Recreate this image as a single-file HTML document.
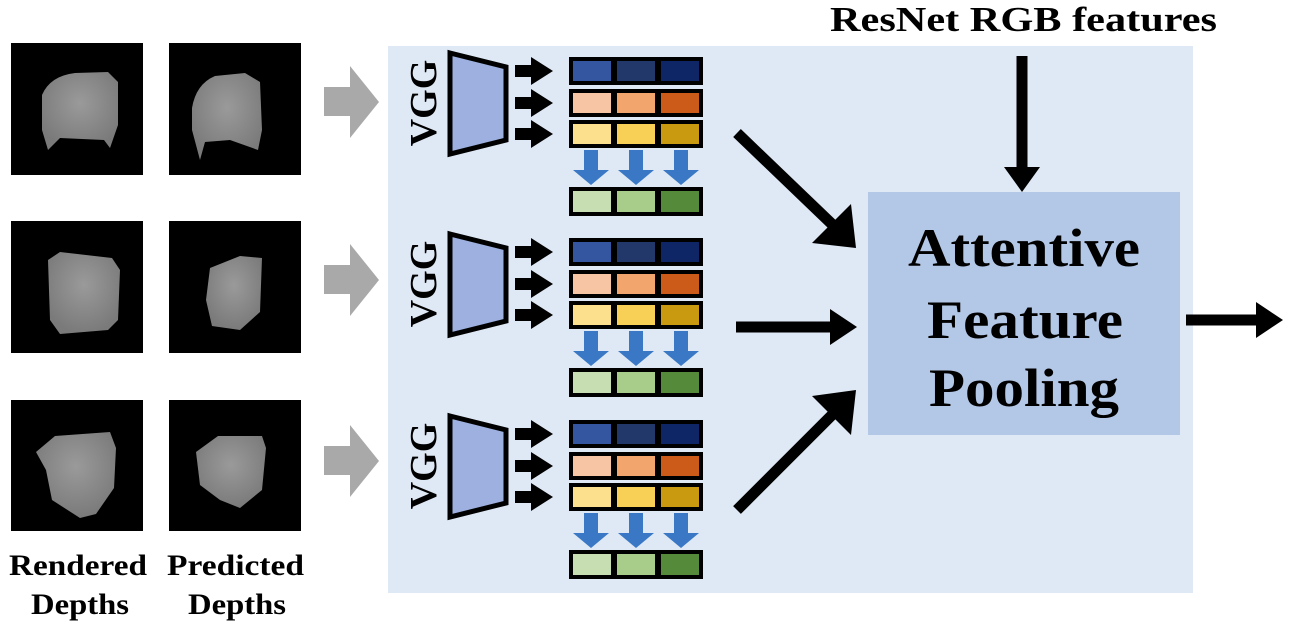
<!DOCTYPE html>
<html><head><meta charset="utf-8"><style>
html,body{margin:0;padding:0;background:#fff;}
svg{display:block;}
text{font-family:"Liberation Serif",serif;font-weight:bold;fill:#000;}
</style></head><body>
<svg width="1289" height="628" viewBox="0 0 1289 628" xmlns="http://www.w3.org/2000/svg">
<defs>
<radialGradient id="ch" cx="50%" cy="40%" r="60%">
<stop offset="0" stop-color="#9a9a9a"/><stop offset="1" stop-color="#7a7a7a"/>
</radialGradient>
</defs>
<rect x="388" y="46" width="805" height="547" fill="#dfe9f5"/>
<text x="830" y="31" font-size="35" textLength="387" lengthAdjust="spacingAndGlyphs">ResNet RGB features</text>

<g>
<rect x="11" y="43" width="132" height="132" fill="#000"/>
<path d="M42 95 Q50 76 75 73 L108 72 L118 82 L118 125 L110 148 L104 140 L60 138 L48 150 L42 130 Z" fill="url(#ch)"/>
<rect x="169" y="43" width="132" height="132" fill="#000"/>
<path d="M192 108 Q196 84 215 76 L245 73 L260 82 L262 130 L258 150 L230 140 L205 142 L200 160 L192 130 Z" fill="url(#ch)"/>
<rect x="11" y="221" width="132" height="132" fill="#000"/>
<path d="M48 260 L60 252 L112 258 L120 270 L118 320 L108 330 L60 334 L50 320 Z" fill="url(#ch)"/>
<rect x="169" y="221" width="132" height="132" fill="#000"/>
<path d="M210 268 L240 256 L262 258 L260 312 L240 330 L212 326 L206 300 Z" fill="url(#ch)"/>
<rect x="11" y="400" width="132" height="131" fill="#000"/>
<path d="M36 452 L55 436 L110 432 L116 448 L114 488 L96 514 L80 518 L52 500 L46 470 Z" fill="url(#ch)"/>
<rect x="169" y="400" width="132" height="131" fill="#000"/>
<path d="M196 452 L218 436 L262 436 L266 448 L262 490 L240 508 L220 500 L200 485 Z" fill="url(#ch)"/>
</g>
<text x="9" y="575" font-size="30" textLength="138" lengthAdjust="spacingAndGlyphs">Rendered</text>
<text x="31" y="614" font-size="30" textLength="98" lengthAdjust="spacingAndGlyphs">Depths</text>
<text x="167" y="575" font-size="30" textLength="137" lengthAdjust="spacingAndGlyphs">Predicted</text>
<text x="188" y="614" font-size="30" textLength="98" lengthAdjust="spacingAndGlyphs">Depths</text>

<g fill="#a9a9a9">
<path d="M324 87 L350 87 L350 66 L379 102 L350 138 L350 116 L324 116 Z"/>
<path d="M324 265 L350 265 L350 244 L379 280 L350 316 L350 294 L324 294 Z"/>
<path d="M324 446 L350 446 L350 425 L379 461 L350 497 L350 475 L324 475 Z"/>
</g>

<g id="b1" transform="translate(0,57)">
<text transform="translate(436,46) rotate(-90)" font-size="38" text-anchor="middle">VGG</text>
<path d="M450 -4 L506 10 L506 83 L450 97 Z" fill="#9db0e0" stroke="#000" stroke-width="5"/>
<g fill="#000">
<path d="M515 8 L531 8 L531 0 L553 14 L531 28 L531 20 L515 20 Z"/>
<path d="M515 40 L531 40 L531 32 L553 46 L531 60 L531 52 L515 52 Z"/>
<path d="M515 71 L531 71 L531 63 L553 77 L531 91 L531 83 L515 83 Z"/>
</g>
<rect x="569" y="0" width="134" height="28" fill="#000"/>
<rect x="573" y="4" width="38" height="20" fill="#3456a0"/><rect x="617" y="4" width="38" height="20" fill="#22386a"/><rect x="661" y="4" width="38" height="20" fill="#0e2566"/>
<rect x="569" y="32" width="134" height="28" fill="#000"/>
<rect x="573" y="36" width="38" height="20" fill="#f7c5a4"/><rect x="617" y="36" width="38" height="20" fill="#f2a56c"/><rect x="661" y="36" width="38" height="20" fill="#cc5a18"/>
<rect x="569" y="63" width="134" height="28" fill="#000"/>
<rect x="573" y="67" width="38" height="20" fill="#fde08e"/><rect x="617" y="67" width="38" height="20" fill="#f8d056"/><rect x="661" y="67" width="38" height="20" fill="#c99a10"/>
<g fill="#3a78c6">
<path d="M584 93 L598 93 L598 113 L609 113 L591 128 L573 113 L584 113 Z"/>
<path d="M629 93 L643 93 L643 113 L654 113 L636 128 L618 113 L629 113 Z"/>
<path d="M674 93 L688 93 L688 113 L699 113 L681 128 L663 113 L674 113 Z"/>
</g>
<rect x="569" y="130" width="134" height="29" fill="#000"/>
<rect x="573" y="134" width="38" height="21" fill="#c6deb2"/><rect x="617" y="134" width="38" height="21" fill="#a8cc8a"/><rect x="661" y="134" width="38" height="21" fill="#548a3a"/>
</g>
<use href="#b1" transform="translate(0,181)"/>
<use href="#b1" transform="translate(0,363)"/>

<rect x="868" y="192" width="312" height="243" fill="#b3c7e6"/>
<text x="908" y="266" font-size="54" textLength="232" lengthAdjust="spacingAndGlyphs">Attentive</text>
<text x="927" y="338" font-size="54" textLength="196" lengthAdjust="spacingAndGlyphs">Feature</text>
<text x="929" y="406" font-size="54" textLength="190" lengthAdjust="spacingAndGlyphs">Pooling</text>

<g stroke="#000" stroke-width="11" fill="none">
<line x1="737" y1="133" x2="836" y2="228"/>
<line x1="736" y1="327" x2="830" y2="327"/>
<line x1="737" y1="510" x2="836" y2="411"/>
<line x1="1022" y1="56" x2="1022" y2="172"/>
<line x1="1186" y1="320" x2="1260" y2="320"/>
</g>
<g fill="#000">
<path d="M856 248 L812 243 L851 204 Z"/>
<path d="M857 327 L830 309 L830 345 Z"/>
<path d="M856 390 L851 435 L812 396 Z"/>
<path d="M1022 192 L1004 167 L1040 167 Z"/>
<path d="M1283 320 L1256 302 L1256 338 Z"/>
</g>
</svg>
</body></html>
